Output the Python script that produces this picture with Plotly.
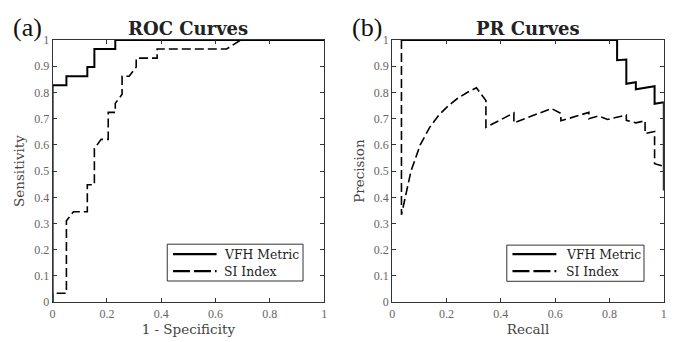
import plotly.graph_objects as go

# ROC data
roc_vfh_fpr = [0, 0, 0.051, 0.051, 0.128, 0.128, 0.154, 0.154, 0.231, 0.231, 1.0]
roc_vfh_tpr = [0, 0.828, 0.828, 0.862, 0.862, 0.897, 0.897, 0.966, 0.966, 1.0, 1.0]
roc_si_fpr = [0, 0, 0.051, 0.051, 0.077, 0.128, 0.128, 0.154, 0.154, 0.179, 0.205, 0.205, 0.231,
              0.231, 0.256, 0.256, 0.282, 0.308, 0.308, 0.385, 0.385, 0.641, 0.692, 1.0]
roc_si_tpr = [0, 0.034, 0.034, 0.310, 0.345, 0.345, 0.448, 0.448, 0.586, 0.621, 0.621, 0.724, 0.724,
              0.759, 0.793, 0.862, 0.862, 0.897, 0.931, 0.931, 0.966, 0.966, 1.0, 1.0]

# PR data
pr_vfh_rec = [0.034, 0.828, 0.828, 0.862, 0.862, 0.897, 0.897, 0.966, 0.966, 1.0, 1.0]
pr_vfh_prec = [1.0, 1.0, 0.923, 0.926, 0.833, 0.839, 0.8125, 0.824, 0.757, 0.763, 0.426]
pr_si_rec = [0.034, 0.034, 0.069, 0.103, 0.138, 0.172, 0.207, 0.241, 0.276, 0.310, 0.345, 0.345,
             0.448, 0.448, 0.586, 0.621, 0.621, 0.724, 0.724, 0.759, 0.793, 0.862, 0.862,
             0.897, 0.931, 0.931, 0.966, 0.966, 1.0]
pr_si_prec = [1.0, 0.333, 0.5, 0.6, 0.667, 0.714, 0.75, 0.778, 0.8, 0.818, 0.769, 0.667,
              0.722, 0.684, 0.739, 0.72, 0.692, 0.724, 0.7, 0.71, 0.697, 0.714, 0.694,
              0.684, 0.692, 0.643, 0.651, 0.528, 0.518]

series_names = ["VFH Metric", "SI Index"]
panel_titles = ["ROC Curves", "PR Curves"]
panel_labels = ["(a)", "(b)"]
x_titles = ["1 - Specificity", "Recall"]
y_titles = ["Sensitivity", "Precision"]
x_ticks = [0, 0.2, 0.4, 0.6, 0.8, 1]
y_ticks = [0, 0.1, 0.2, 0.3, 0.4, 0.5, 0.6, 0.7, 0.8, 0.9, 1]

SERIF = "DejaVu Serif, serif"
TICKF = "Liberation Serif, DejaVu Serif, serif"
W, H = 679, 342
solid = dict(color="black", width=2)
dashed = dict(color="black", width=1.6, dash="9px,4px")

fig = go.Figure()
fig.add_trace(go.Scatter(x=roc_vfh_fpr, y=roc_vfh_tpr, mode="lines", line=solid,
                         name=series_names[0], xaxis="x", yaxis="y", showlegend=False))
fig.add_trace(go.Scatter(x=roc_si_fpr, y=roc_si_tpr, mode="lines", line=dashed,
                         name=series_names[1], xaxis="x", yaxis="y", showlegend=False))
fig.add_trace(go.Scatter(x=pr_vfh_rec, y=pr_vfh_prec, mode="lines", line=solid,
                         name=series_names[0], xaxis="x2", yaxis="y2", showlegend=False))
fig.add_trace(go.Scatter(x=pr_si_rec, y=pr_si_prec, mode="lines", line=dashed,
                         name=series_names[1], xaxis="x2", yaxis="y2", showlegend=False))

dom_x = [[50 / W, 324 / W], [392.7 / W, 666.7 / W]]
dom_y = [1 - 307.7 / H, 1 - 34.5 / H]

def ax_common():
    return dict(showline=True, linecolor="#333", linewidth=1, mirror="allticks",
                ticks="inside", ticklen=4, tickcolor="#333", showgrid=False, zeroline=False,
                tickfont=dict(family=TICKF, size=12, color="#666"))

for i in range(2):
    sfx = "" if i == 0 else str(i + 1)
    xa = ax_common()
    xa.update(domain=dom_x[i], range=[0, 1], tickvals=x_ticks,
              ticktext=[f"{v:g}" for v in x_ticks], anchor="y" + sfx,
              title=dict(text=x_titles[i], font=dict(family=SERIF, size=13.5, color="#444"), standoff=3))
    ya = ax_common()
    ya.update(domain=dom_y, range=[0, 1], tickvals=y_ticks,
              ticktext=[f"{v:g}" for v in y_ticks], anchor="x" + sfx,
              title=dict(text=y_titles[i], font=dict(family=SERIF, size=13.5, color="#444"), standoff=6))
    fig.layout["xaxis" + sfx] = xa
    fig.layout["yaxis" + sfx] = ya

annotations = []
shapes = []
centers = [(dom_x[0][0] + dom_x[0][1]) / 2, (dom_x[1][0] + dom_x[1][1]) / 2]
label_x = [8 / W, 350 / W]
for i in range(2):
    annotations.append(dict(text="<b>" + panel_titles[i] + "</b>", x=centers[i], y=1 - 22 / H,
                            xref="paper", yref="paper", showarrow=False, xanchor="center",
                            yanchor="middle", font=dict(family=SERIF, size=18, color="#222")))
    annotations.append(dict(text=panel_labels[i], x=label_x[i], y=1 - 21 / H,
                            xref="paper", yref="paper", showarrow=False, xanchor="left",
                            yanchor="middle", font=dict(family=TICKF, size=26, color="#111")))

# manual legends (box, line samples, labels) in pixel-derived paper coords
legend_boxes = [(165.7, 247.3, 302.7, 285.7), (508.3, 248.3, 646.7, 286.0)]
sample_x = [(171.5, 215.5), (514.0, 558.3)]
text_x = [220.5, 566.0]
row_y = [257.7, 275.5]
for i in range(2):
    x0, y0, x1, y1 = legend_boxes[i]
    shapes.append(dict(type="rect", xref="paper", yref="paper", x0=x0 / W, x1=x1 / W,
                       y0=1 - y1 / H, y1=1 - y0 / H, line=dict(color="#333", width=1),
                       fillcolor="white", layer="above"))
    for j in range(2):
        ln = dict(color="black", width=2.2) if j == 0 else dict(color="black", width=2.2, dash="17px,4px")
        shapes.append(dict(type="line", xref="paper", yref="paper", x0=sample_x[i][0] / W,
                           x1=sample_x[i][1] / W, y0=1 - row_y[j] / H, y1=1 - row_y[j] / H,
                           line=ln, layer="above"))
        annotations.append(dict(text=series_names[j], x=text_x[i] / W, y=1 - row_y[j] / H,
                                xref="paper", yref="paper", showarrow=False, xanchor="left",
                                yanchor="middle", font=dict(family=SERIF, size=12.4, color="#222")))

fig.update_layout(width=W, height=H, margin=dict(l=0, r=0, t=0, b=0),
                  paper_bgcolor="white", plot_bgcolor="white", showlegend=False,
                  annotations=annotations, shapes=shapes)

fig.write_html("out.html")
